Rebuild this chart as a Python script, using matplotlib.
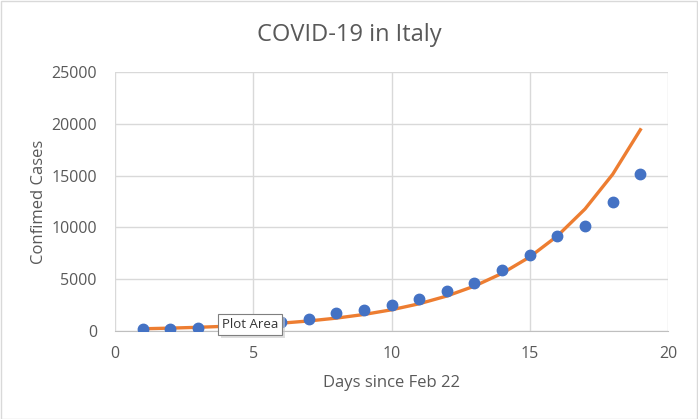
import matplotlib
matplotlib.use("Agg")
import matplotlib.pyplot as plt

plt.rcParams['font.family'] = ['Open Sans', 'DejaVu Sans']

# Data: days since Feb 22 and confirmed cases in Italy
days = [1, 2, 3, 4, 5, 6, 7, 8, 9, 10, 11, 12, 13, 14, 15, 16, 17, 18, 19]
cases = [155, 229, 322, 453, 655, 888, 1128, 1694, 2036, 2502, 3089,
         3858, 4636, 5883, 7375, 9172, 10149, 12462, 15113]
# exponential fit curve
fit = [215, 277, 356, 457, 586, 753, 967, 1242, 1594, 2047, 2629,
       3376, 4334, 5565, 7146, 9176, 11782, 15128, 19425]

x_ticks = [0, 5, 10, 15, 20]
y_ticks = [0, 5000, 10000, 15000, 20000, 25000]

grey_text = '#595959'
grid_col = '#D9D9D9'

fig = plt.figure(figsize=(6.98, 4.19), dpi=100)
ax = fig.add_axes([115 / 698, 1 - 331 / 419, 553 / 698, 259 / 419])

ax.plot(days, fit, color='#ED7D31', linewidth=2.4, zorder=2)
ax.plot(days, cases, 'o', color='#4472C4', markersize=7.5, zorder=3)

ax.set_xlim(0, 20)
ax.set_ylim(0, 25000)
ax.set_xticks(x_ticks)
ax.set_yticks(y_ticks)
ax.grid(True, color=grid_col, linewidth=1)
ax.set_axisbelow(True)
for side in ['top', 'right', 'left']:
    ax.spines[side].set_visible(False)
ax.spines['bottom'].set_color('#BFBFBF')
ax.tick_params(length=0, labelsize=11.5, labelcolor=grey_text)
ax.tick_params(axis='y', pad=13)
ax.tick_params(axis='x', pad=11)

ax.set_xlabel('Days since Feb 22', fontsize=12, color=grey_text, labelpad=9)
ax.set_ylabel('Confimed Cases', fontsize=12, color=grey_text, labelpad=3)
fig.text(0.5, 1 - 35 / 419, 'COVID-19 in Italy', ha='center', va='center',
         fontsize=17, color=grey_text)

# Excel hover tooltip (with a soft shadow)
ax.annotate('Plot Area', xy=(4.88, 650), xytext=(2, -2), textcoords='offset points',
            ha='center', va='center', fontsize=9.5, alpha=0.0, zorder=4,
            bbox=dict(boxstyle='square,pad=0.3', facecolor='#C8C8C8',
                      edgecolor='none', alpha=0.6))
ax.annotate('Plot Area', xy=(4.88, 650), ha='center', va='center',
            fontsize=9.5, color='#333333', zorder=5,
            bbox=dict(boxstyle='square,pad=0.3', facecolor='white',
                      edgecolor='#7F7F7F', linewidth=0.8))

# chart border
fig.patches.append(plt.Rectangle((0.001, 0.001), 0.997, 0.997, transform=fig.transFigure,
                                 fill=False, edgecolor='#D9D9D9', linewidth=1))

fig.savefig('out.png', dpi=100)
